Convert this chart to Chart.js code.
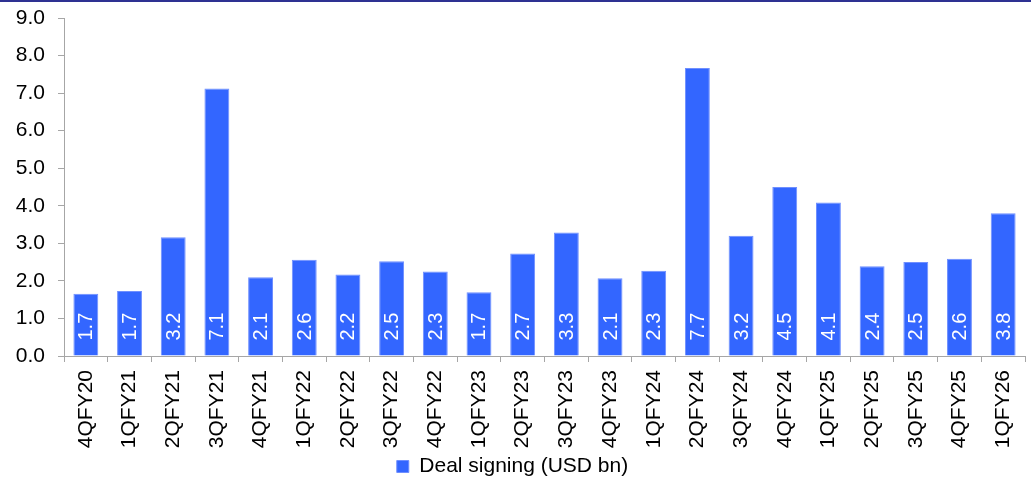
<!DOCTYPE html>
<html>
<head>
<meta charset="utf-8">
<script src="https://cdn.jsdelivr.net/npm/chart.js@4"></script>
<style>
  html, body { margin: 0; padding: 0; background: #fff; }
  #wrap { width: 1031px; height: 476px; border-top: 2px solid #2e3192; position: relative; }
</style>
</head>
<body>
<div id="wrap"><canvas id="dealChart"></canvas></div>
<script>
// quarters on the x axis
const quarters = ["4QFY20", "1QFY21", "2QFY21", "3QFY21", "4QFY21", "1QFY22", "2QFY22", "3QFY22",
  "4QFY22", "1QFY23", "2QFY23", "3QFY23", "4QFY23", "1QFY24", "2QFY24", "3QFY24", "4QFY24",
  "1QFY25", "2QFY25", "3QFY25", "4QFY25", "1QFY26"];

// deal signing, USD bn
const dealSigning = [1.66, 1.73, 3.16, 7.12, 2.10, 2.56, 2.17, 2.52, 2.25, 1.70, 2.73, 3.29,
  2.07, 2.27, 7.67, 3.20, 4.50, 4.09, 2.39, 2.50, 2.59, 3.80];

const yTicks = [0, 1, 2, 3, 4, 5, 6, 7, 8, 9];

const seriesName = "Deal signing (USD bn)";
const barColor = "#3366ff";
const axisColor = "#a6a6a6";
const fontFamily = "'Liberation Sans', Arial, sans-serif";

// white rotated value labels sitting at the bottom of each bar
const barLabels = {
  id: "barLabels",
  afterDatasetsDraw(chart) {
    const ctx = chart.ctx;
    const meta = chart.getDatasetMeta(0);
    ctx.save();
    ctx.fillStyle = "#ffffff";
    ctx.font = "20px " + fontFamily;
    ctx.textAlign = "left";
    ctx.textBaseline = "middle";
    meta.data.forEach((bar, i) => {
      ctx.save();
      ctx.translate(bar.x + 1, bar.base - 15);
      ctx.rotate(-Math.PI / 2);
      ctx.fillText(dealSigning[i].toFixed(1), 0, 0);
      ctx.restore();
    });
    ctx.restore();
  }
};

const ctx = document.getElementById("dealChart").getContext("2d");
new Chart(ctx, {
  type: "bar",
  data: {
    labels: quarters,
    datasets: [{
      label: seriesName,
      data: dealSigning,
      backgroundColor: barColor,
      borderColor: "#6f8fff",
      borderWidth: 1,
      categoryPercentage: 1,
      barPercentage: 0.57
    }]
  },
  options: {
    responsive: true,
    maintainAspectRatio: false,
    animation: false,
    layout: { padding: { top: 16, right: 6, left: 0, bottom: 0 } },
    scales: {
      x: {
        afterFit(scale) {
          scale.height = 95;
          scale.paddingLeft = 0;
          scale.paddingRight = 0;
        },
        grid: { display: true, drawOnChartArea: false, drawTicks: true, tickLength: 6, color: axisColor, offset: true },
        border: { color: axisColor },
        ticks: {
          color: "#000",
          font: { family: fontFamily, size: 21 },
          autoSkip: false,
          minRotation: 90,
          maxRotation: 90,
          padding: 8
        }
      },
      y: {
        min: 0,
        max: 9,
        afterBuildTicks(scale) { scale.ticks = yTicks.map(v => ({ value: v })); },
        afterFit(scale) {
          scale.width = 64;
          scale.paddingTop = 0;
          scale.paddingBottom = 0;
        },
        grid: { display: true, drawOnChartArea: false, drawTicks: true, tickLength: 6, color: axisColor },
        border: { color: axisColor },
        ticks: {
          color: "#000",
          font: { family: fontFamily, size: 21 },
          padding: 13,
          callback: v => Number(v).toFixed(1)
        }
      }
    },
    plugins: {
      legend: {
        position: "bottom",
        maxHeight: 27,
        labels: {
          color: "#000",
          font: { family: fontFamily, size: 21 },
          boxWidth: 12,
          boxHeight: 12,
          padding: 5
        }
      },
      tooltip: { enabled: false }
    }
  },
  plugins: [barLabels]
});
</script>
</body>
</html>
